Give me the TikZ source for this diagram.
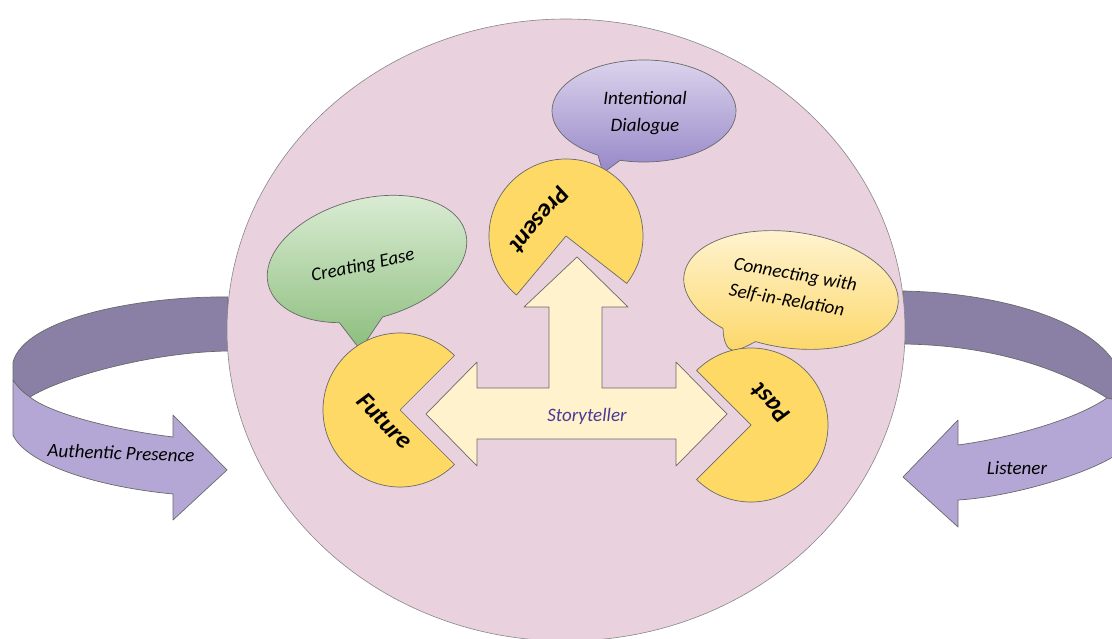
\documentclass[tikz,border=0pt]{standalone}
\usepackage{fontspec}
\setmainfont{Carlito}
\definecolor{bgpink}{RGB}{233,209,221}
\definecolor{pacy}{RGB}{255,217,102}
\definecolor{cream}{RGB}{255,242,204}
\definecolor{darkband}{RGB}{138,128,166}
\definecolor{lightband}{RGB}{180,167,214}
\definecolor{edge}{RGB}{105,105,105}
\definecolor{storyc}{RGB}{75,59,150}
\definecolor{gtop}{RGB}{222,238,216}
\definecolor{gbot}{RGB}{140,190,125}
\definecolor{ptop}{RGB}{222,215,238}
\definecolor{pbot}{RGB}{150,135,200}
\definecolor{ytop}{RGB}{255,245,215}
\definecolor{ybot}{RGB}{252,214,100}
\tikzset{
  outline/.style={draw=edge, line width=0.7pt, line join=round},
  pac/.style={outline, fill=pacy},
  lbl/.style={font=\itshape\fontsize{19}{27}\selectfont, text=black, inner sep=0pt},
  paclbl/.style={font=\bfseries\itshape\fontsize{25}{26}\selectfont, text=black, inner sep=0pt}
}
\begin{document}
\begin{tikzpicture}[x=1pt,y=1pt]
\useasboundingbox (0,0) rectangle (1112,-639);
\clip (0,0) rectangle (1112,-639);
% left ribbon arrow
\path[outline, fill=darkband] (228,-297) .. controls (140,-296) and (25,-318) .. (13,-362) -- (13,-380)
  .. controls (18,-388) and (24,-393) .. (30,-397)
  .. controls (60,-378) and (150,-352) .. (228,-351) -- cycle;
\path[outline, fill=lightband] (13,-380) -- (13,-435) .. controls (25,-462) and (90,-486) .. (173,-494)
  -- (173,-520) -- (227,-470) -- (173,-415) -- (173,-437)
  .. controls (100,-428) and (45,-410) .. (30,-397) .. controls (24,-393) and (18,-388) .. (13,-380) -- cycle;
% right ribbon arrow
\path[outline, fill=darkband] (903,-291) .. controls (1000,-293) and (1090,-320) .. (1116,-365) -- (1116,-400) -- (1107,-398)
  .. controls (1060,-368) and (990,-345) .. (903,-344) -- cycle;
\path[outline, fill=lightband] (1107,-398) .. controls (1075,-420) and (1010,-438) .. (958,-445)
  -- (958,-420) -- (903,-477) -- (958,-527) -- (958,-500)
  .. controls (1010,-497) and (1085,-475) .. (1116,-455) -- (1116,-400) -- cycle;
% big circle
\path[draw=edge!80, line width=0.6pt, fill=bgpink] (566,-330) ellipse [x radius=339pt, y radius=311pt];
% T arrow
\path[outline, fill=cream] (426,-414) -- (477,-362) -- (477,-388) -- (549,-388) -- (549,-307) -- (524,-307)
  -- (577,-257) -- (628,-307) -- (602,-307) -- (602,-388) -- (676,-388) -- (676,-362) -- (727,-414)
  -- (676,-466) -- (676,-439) -- (477,-439) -- (477,-466) -- cycle;
% green bubble
\begin{scope}[shift={(367,-259)}, rotate=15]
\shadedraw[outline, top color=gtop, bottom color=gbot] (270:102pt and 60pt)
  arc[start angle=270, end angle=605, x radius=102pt, y radius=60pt] -- (-30,-86) -- cycle;
\end{scope}
% purple bubble
\begin{scope}[shift={(644,-111)}]
\shadedraw[outline, top color=ptop, bottom color=pbot] (255:92pt and 51pt)
  arc[start angle=255, end angle=600, x radius=92pt, y radius=51pt] -- (-41,-62) -- cycle;
\end{scope}
% yellow bubble
\begin{scope}[shift={(791,-290)}, rotate=-8]
\shadedraw[outline, top color=ytop, bottom color=ybot] (255:108pt and 58pt)
  arc[start angle=255, end angle=595, x radius=108pt, y radius=58pt]
  .. controls (-60,-60) and (-55,-68) .. (-49,-68) .. controls (-42,-66) and (-36,-62) .. cycle;
\end{scope}
% pacmen
\path[pac] (400,-410) -- ++(45:77pt) arc[start angle=45, end angle=315, radius=77pt] -- cycle;
\path[pac] (566,-236) -- ++(322:77pt) arc[start angle=322, end angle=590, radius=77pt] -- cycle;
\path[pac] (751,-425) -- ++(225:77pt) arc[start angle=225, end angle=495, radius=77pt] -- cycle;
% labels
\node[paclbl, rotate=-46] (future) at (385,-421) {Future};
\node[paclbl, rotate=230] (present) at (540,-220) {Present};
\node[paclbl, rotate=134] (past) at (770,-403) {Past};
\node[lbl, text=storyc] (story) at (587,-416) {Storyteller};
\node[lbl, rotate=12] (ease) at (363,-266) {Creating Ease};
\node[lbl, align=center] (dialogue) at (645,-113) {Intentional\\Dialogue};
\node[lbl, align=left, rotate=-10] (self) at (793,-288) {Connecting with\\Self-in-Relation};
\node[lbl, rotate=-2] (authentic) at (121,-453) {Authentic Presence};
\node[lbl] (listener) at (1017,-468) {Listener};
\end{tikzpicture}
\end{document}
